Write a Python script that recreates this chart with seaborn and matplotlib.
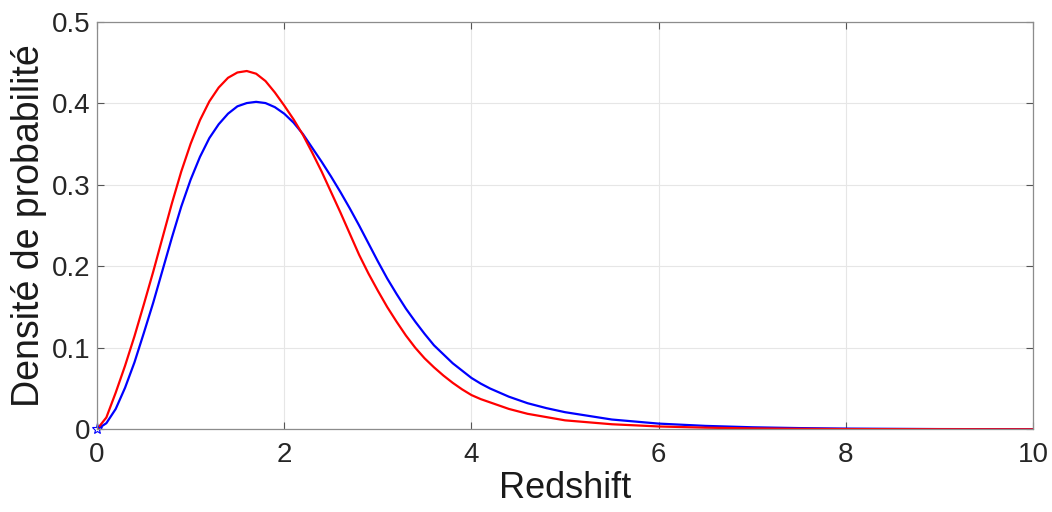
import numpy as np
import pandas as pd
import matplotlib
matplotlib.use("Agg")
import matplotlib.pyplot as plt
import seaborn as sns

# redshift grid and the two probability densities
redshift = [0.0, 0.1, 0.2, 0.3, 0.4, 0.5, 0.6, 0.7, 0.8, 0.9,
            1.0, 1.1, 1.2, 1.3, 1.4, 1.5, 1.6, 1.7, 1.8, 1.9,
            2.0, 2.1, 2.2, 2.3, 2.4, 2.5, 2.6, 2.7, 2.8, 2.9,
            3.0, 3.1, 3.2, 3.3, 3.4, 3.5, 3.6, 3.7, 3.8, 3.9,
            4.0, 4.1, 4.2, 4.3, 4.4, 4.5, 4.6, 4.8, 5.0, 5.5,
            6.0, 6.5, 7.0, 7.5, 8.0, 9.0, 10.0]
density_red = [0.0, 0.0145, 0.045, 0.078, 0.114, 0.153, 0.193, 0.235, 0.277, 0.316,
               0.350, 0.379, 0.402, 0.419, 0.431, 0.4375, 0.4393, 0.436, 0.427, 0.413,
               0.397, 0.380, 0.361, 0.339, 0.316, 0.291, 0.266, 0.240, 0.214, 0.191,
               0.170, 0.150, 0.132, 0.115, 0.100, 0.087, 0.076, 0.066, 0.057, 0.049,
               0.042, 0.037, 0.033, 0.029, 0.025, 0.022, 0.019, 0.015, 0.011, 0.0062,
               0.0035, 0.002, 0.0011, 0.0006, 0.0003, 0.0001, 0.0]
density_blue = [0.0, 0.0075, 0.025, 0.051, 0.082, 0.118, 0.155, 0.195, 0.235, 0.273,
                0.306, 0.334, 0.357, 0.374, 0.387, 0.396, 0.400, 0.4015, 0.400, 0.395,
                0.387, 0.376, 0.362, 0.345, 0.328, 0.310, 0.291, 0.271, 0.250, 0.228,
                0.206, 0.185, 0.166, 0.148, 0.132, 0.117, 0.103, 0.092, 0.081, 0.072,
                0.063, 0.056, 0.050, 0.045, 0.040, 0.036, 0.032, 0.026, 0.021, 0.012,
                0.007, 0.0042, 0.0025, 0.0015, 0.0009, 0.0003, 0.0001]

x_ticks = [0, 2, 4, 6, 8, 10]
y_ticks = [0, 0.1, 0.2, 0.3, 0.4, 0.5]
y_tick_labels = ["0", "0.1", "0.2", "0.3", "0.4", "0.5"]

df = pd.DataFrame({"z": redshift, "red": density_red, "blue": density_blue})

sns.set_theme(style="whitegrid")
plt.rcParams["font.family"] = ["Liberation Sans", "DejaVu Sans"]

fig = plt.figure(figsize=(10.52, 5.12), dpi=100)
ax = fig.add_axes([0.0922, 0.1615, 0.8898, 0.7965])

sns.lineplot(data=df, x="z", y="blue", color="#0000ff", linewidth=1.6, ax=ax)
sns.lineplot(data=df, x="z", y="red", color="#ff0000", linewidth=1.6, ax=ax)
ax.plot([redshift[0]], [density_blue[0]], marker="*", color="#0000ff",
        markersize=8, markerfacecolor="none", markeredgewidth=0.8, clip_on=False)

ax.set_xlim(0, 10)
ax.set_ylim(0, 0.5)
ax.set_xticks(x_ticks)
ax.set_yticks(y_ticks)
ax.set_yticklabels(y_tick_labels)
ax.set_xlabel("Redshift", fontsize=26, color="#1a1a1a", labelpad=2)
ax.set_ylabel("Densité de probabilité", fontsize=27, color="#1a1a1a", labelpad=3)

ax.set_facecolor("white")
ax.grid(True, color="#e6e6e6", linewidth=0.8)
for side in ["left", "right", "top", "bottom"]:
    ax.spines[side].set_visible(True)
    ax.spines[side].set_color("#8c8c8c")
    ax.spines[side].set_linewidth(0.9)
ax.tick_params(axis="both", which="both", direction="in", length=5, width=0.8,
               color="#555555", labelsize=20, labelcolor="#262626",
               top=True, right=True, left=True, bottom=True, pad=5)
ax.tick_params(axis="x", pad=9)

fig.savefig("out.png", dpi=100, facecolor="white")
